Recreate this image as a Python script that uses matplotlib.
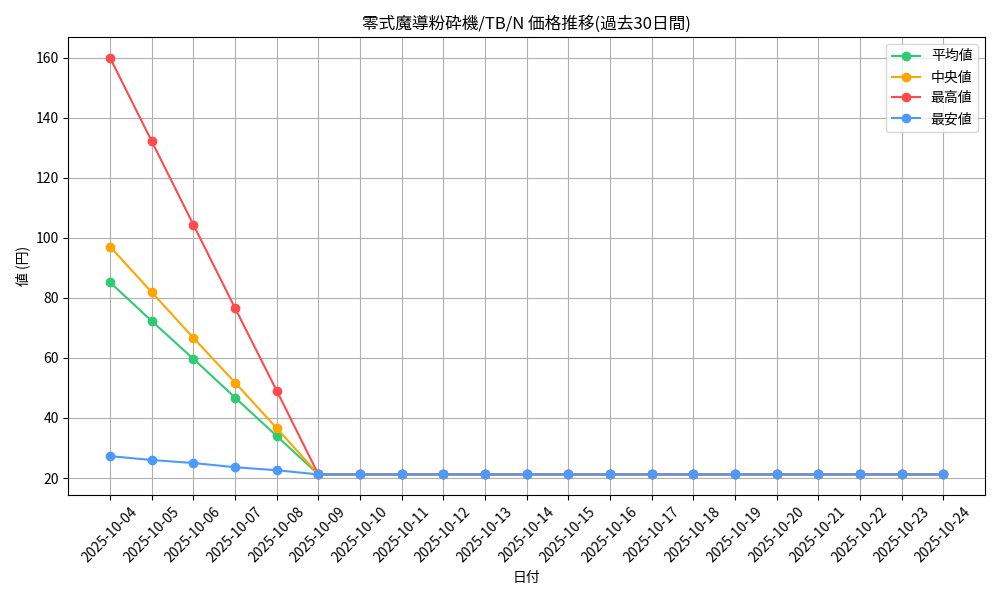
import matplotlib

matplotlib.use("Agg")
import matplotlib.pyplot as plt
import pandas as pd

plt.rcParams["font.family"] = ["Noto Sans CJK JP", "DejaVu Sans"]

dates = pd.date_range("2025-10-04", "2025-10-24").strftime("%Y-%m-%d").tolist()
flat = [21.2] * 15

avg_price = [85.2, 72.3, 59.7, 46.8, 34.0, 21.2] + flat
median_price = [97.1, 81.9, 66.7, 51.8, 36.6, 21.2] + flat
max_price = [160.0, 132.2, 104.4, 76.6, 49.1, 21.2] + flat
min_price = [27.3, 26.0, 25.0, 23.6, 22.6, 21.2] + flat

fig, ax = plt.subplots(figsize=(10, 6), dpi=100)

ax.plot(dates, avg_price, marker="o", color="#2ecc71", label="平均値")
ax.plot(dates, median_price, marker="o", color="#ffa500", label="中央値")
ax.plot(dates, max_price, marker="o", color="#ff4b4b", label="最高値")
ax.plot(dates, min_price, marker="o", color="#4b9bff", label="最安値")

ax.set_title("零式魔導粉砕機/TB/N 価格推移(過去30日間)")
ax.set_xlabel("日付")
ax.set_ylabel("値 (円)")
ax.legend(loc="upper right")
ax.grid(True)
ax.tick_params(axis="x", rotation=45)

plt.tight_layout()
plt.savefig("out.png")
plt.close()
